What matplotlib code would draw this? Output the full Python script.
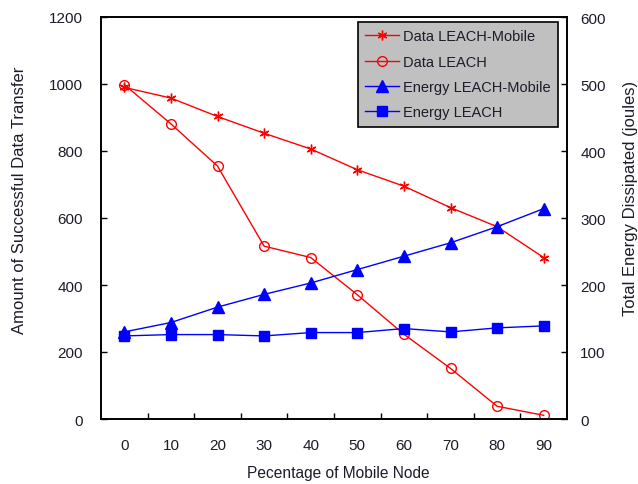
import matplotlib
matplotlib.use("Agg")
import matplotlib.pyplot as plt
from matplotlib.ticker import FixedLocator

plt.rcParams['font.family'] = ['Liberation Sans', 'DejaVu Sans']

categories = ["0", "10", "20", "30", "40", "50", "60", "70", "80", "90"]
data_leach_mobile = [990, 958, 903, 853, 806, 744, 695, 631, 574, 482]
data_leach = [998, 881, 755, 516, 482, 371, 253, 151, 38, 11]
energy_leach_mobile = [130, 144, 167, 186, 203, 223, 243, 263, 287, 314]
energy_leach = [124, 126, 126, 124, 129, 129, 135, 130, 136, 139]

W, H = 638, 485
fig = plt.figure(figsize=(W / 100, H / 100), dpi=100)
ax = fig.add_axes([101 / W, 1 - 420 / H, (567 - 101) / W, (420 - 18) / H])
ax2 = ax.twinx()

txt = '#1c1c2a'
x = list(range(len(categories)))

l1, = ax.plot(x, data_leach_mobile, color='red', lw=1, marker=(6, 2, 0), ms=7,
              mew=1, mec='red', label='Data LEACH-Mobile')
l2, = ax.plot(x, data_leach, color='red', lw=1, marker='o', ms=7, mfc='none',
              mec='red', mew=1, label='Data LEACH')
l3, = ax2.plot(x, energy_leach_mobile, color='blue', lw=1, marker='^', ms=8,
               mfc='blue', mec='blue', label='Energy LEACH-Mobile')
l4, = ax2.plot(x, energy_leach, color='blue', lw=1, marker='s', ms=7,
               mfc='blue', mec='blue', label='Energy LEACH')

ax.set_xlim(-0.5, len(categories) - 0.5)
ax.set_ylim(0, 1200)
ax.set_yticks(range(0, 1201, 200))
ax2.set_ylim(0, 600)
ax2.set_yticks(range(0, 601, 100))

ax.xaxis.set_major_locator(FixedLocator([i + 0.5 for i in range(len(categories) - 1)]))
ax.xaxis.set_minor_locator(FixedLocator(x))
ax.set_xticklabels([], minor=False)
ax.set_xticklabels(categories, minor=True)
ax.tick_params(axis='x', which='major', direction='in', length=4, width=1)
ax.tick_params(axis='x', which='minor', length=0, pad=14, labelsize=11, labelcolor=txt)
ax.tick_params(axis='y', direction='in', length=4, width=1, labelsize=11,
               labelcolor=txt, pad=13)
ax2.tick_params(axis='y', direction='in', length=4, width=1, labelsize=11,
                labelcolor=txt, pad=9.5)

for a in (ax, ax2):
    for s in a.spines.values():
        s.set_linewidth(1.2)
        s.set_color('black')

fig.text(20 / W, 1 - 200 / H, 'Amount of Successful Data Transfer', rotation=90,
         ha='center', va='center', fontsize=12, color=txt)
fig.text(630 / W, 1 - 198 / H, 'Total Energy Dissipated (joules)', rotation=90,
         ha='center', va='center', fontsize=12, color=txt)
fig.text(338 / W, 1 - 474 / H, 'Pecentage of Mobile Node', ha='center',
         va='center', fontsize=11.2, color=txt)

leg = ax2.legend(handles=[l1, l2, l3, l4], loc='upper right',
                 bbox_to_anchor=(558 / W, 1 - 23 / H), bbox_transform=fig.transFigure,
                 borderaxespad=0, fancybox=False, framealpha=1, facecolor='#c0c0c0',
                 edgecolor='black', fontsize=10.5, handlelength=2.3,
                 handletextpad=0.3, labelspacing=0.78, borderpad=0.5)
leg.get_frame().set_linewidth(1.2)
for t in leg.get_texts():
    t.set_color(txt)

fig.savefig('out.png', dpi=100)
